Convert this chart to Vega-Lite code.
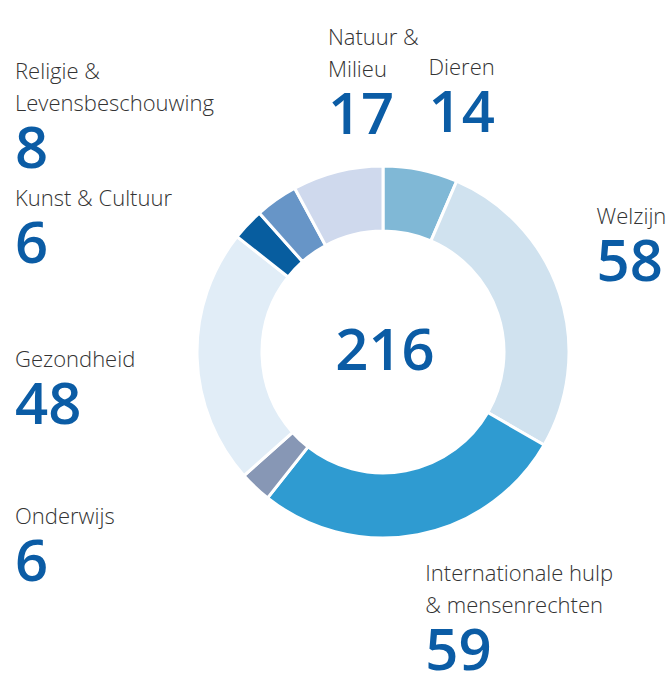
{
  "$schema": "https://vega.github.io/schema/vega-lite/v6.json",
  "width": 576,
  "height": 670,
  "autosize": "none",
  "padding": {"left": 95, "top": 17, "right": 0, "bottom": 0},
  "background": "white",
  "config": {"view": {"stroke": null}},
  "data": {
    "values": [
      {"category": "Dieren", "value": 14},
      {"category": "Welzijn", "value": 58},
      {"category": "Internationale hulp\n& mensenrechten", "value": 59},
      {"category": "Onderwijs", "value": 6},
      {"category": "Gezondheid", "value": 48},
      {"category": "Kunst & Cultuur", "value": 6},
      {"category": "Religie &\nLevensbeschouwing", "value": 8},
      {"category": "Natuur &\nMilieu", "value": 17}
    ]
  },
  "transform": [
    {"window": [{"op": "row_number", "as": "idx"}]},
    {"window": [{"op": "sum", "field": "value", "as": "cum"}], "sort": [{"field": "idx"}], "frame": [null, 0]},
    {"joinaggregate": [{"op": "sum", "field": "value", "as": "total"}]},
    {"calculate": "2*PI*(datum.cum - datum.value/2)/datum.total", "as": "mid"},
    {"calculate": "indexof(datum.category, '\\n') >= 0 ? 2 : 1", "as": "lines"}
  ],
  "layer": [
    {
      "mark": {"type": "arc", "outerRadius": 186, "innerRadius": 121, "stroke": "white", "strokeWidth": 3},
      "encoding": {
        "theta": {"field": "value", "type": "quantitative", "stack": true},
        "order": {"field": "idx", "type": "quantitative"},
        "color": {
          "field": "category",
          "type": "nominal",
          "sort": null,
          "legend": null,
          "scale": {
            "domain": ["Dieren", "Welzijn", "Internationale hulp\n& mensenrechten", "Onderwijs", "Gezondheid", "Kunst & Cultuur", "Religie &\nLevensbeschouwing", "Natuur &\nMilieu"],
            "range": ["#80b8d6", "#d0e2ef", "#2f9bd1", "#8797b5", "#e1edf7", "#075d9f", "#6795c7", "#cfd9ed"]
          }
        }
      }
    },
    {
      "mark": {
        "type": "text",
        "radius": 225,
        "font": "Open Sans",
        "fontSize": 22,
        "fontWeight": 300,
        "color": "#333333",
        "lineBreak": "\n",
        "lineHeight": 32,
        "baseline": "alphabetic",
        "align": "left",
        "dx": {"expr": "sin(datum.mid) < -0.3 ? -368 - 225*sin(datum.mid) : 0"},
        "dy": {"expr": "(cos(datum.mid) > 0.75 || (sin(datum.mid) > 0 && cos(datum.mid) > 0.2)) ? -(57 + 32*(datum.lines - 1)) : 8"}
      },
      "encoding": {
        "theta": {"field": "value", "type": "quantitative", "stack": true},
        "order": {"field": "idx", "type": "quantitative"},
        "text": {"field": "category", "type": "nominal"}
      }
    },
    {
      "mark": {
        "type": "text",
        "radius": 225,
        "font": "Open Sans",
        "fontSize": 58,
        "fontWeight": 600,
        "color": "#0b5ca5",
        "baseline": "alphabetic",
        "align": "left",
        "dx": {"expr": "sin(datum.mid) < -0.3 ? -368 - 225*sin(datum.mid) : 0"},
        "dy": {"expr": "(cos(datum.mid) > 0.75 || (sin(datum.mid) > 0 && cos(datum.mid) > 0.2)) ? 0 : 65 + 32*(datum.lines - 1)"}
      },
      "encoding": {
        "theta": {"field": "value", "type": "quantitative", "stack": true},
        "order": {"field": "idx", "type": "quantitative"},
        "text": {"field": "value", "type": "quantitative"}
      }
    },
    {
      "transform": [{"aggregate": [{"op": "sum", "field": "value", "as": "sumtotal"}]}],
      "mark": {
        "type": "text",
        "font": "Open Sans",
        "fontSize": 58,
        "fontWeight": 600,
        "color": "#0b5ca5",
        "baseline": "alphabetic",
        "align": "center",
        "dx": 2,
        "dy": 18
      },
      "encoding": {
        "text": {"field": "sumtotal", "type": "quantitative"}
      }
    }
  ]
}
